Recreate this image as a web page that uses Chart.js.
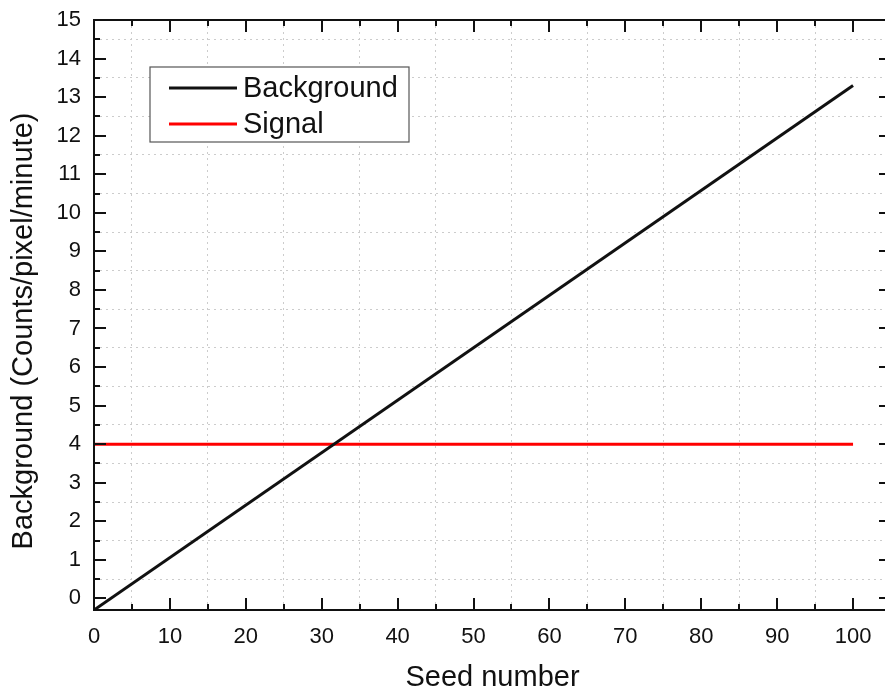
<!DOCTYPE html>
<html>
<head>
<meta charset="utf-8">
<script src="https://cdn.jsdelivr.net/npm/chart.js@4.4.1/dist/chart.umd.min.js"></script>
<style>
  html, body { margin: 0; padding: 0; background: #fff; }
  #wrap { width: 885px; height: 696px; overflow: hidden; position: relative; }
  #chart { display: block; }
</style>
</head>
<body>
<div id="wrap"><canvas id="chart" width="900" height="696"></canvas></div>
<script>
// ------------------ DATA ------------------
const seedNumbers = [0, 100];
const backgroundRate = [-0.3, 13.3];
const signalRate = [4, 4];

const xMajorTicks = [0, 10, 20, 30, 40, 50, 60, 70, 80, 90, 100];
const xMinorTicks = [5, 15, 25, 35, 45, 55, 65, 75, 85, 95, 105];
const yMajorTicks = [0, 1, 2, 3, 4, 5, 6, 7, 8, 9, 10, 11, 12, 13, 14, 15];
const yMinorTicks = [0.5, 1.5, 2.5, 3.5, 4.5, 5.5, 6.5, 7.5, 8.5, 9.5, 10.5, 11.5, 12.5, 13.5, 14.5];

const xTitle = "Seed number";
const yTitle = "Background (Counts/pixel/minute)";

const FONT = "'Liberation Sans', Arial, sans-serif";

// ------------------ HELPERS ------------------
const allTicks = (major, minor) =>
    major.concat(minor).sort((a, b) => a - b).map(v => ({ value: v }));

const isMajor = (list, v) => list.some(m => Math.abs(m - v) < 1e-9);

// keep the plot box fixed: no extra room for overhanging tick labels
const clearPadding = s => {
    s.paddingTop = 0; s.paddingBottom = 0;
    s.paddingLeft = 0; s.paddingRight = 0;
};

// Frame, inward ticks, legend and the rotated y title
const framePlugin = {
    id: "originFrame",
    afterDraw(chart) {
        const { ctx, chartArea: a, scales } = chart;
        const xs = scales.x, ys = scales.y;
        ctx.save();
        ctx.strokeStyle = "#111";
        ctx.lineWidth = 2;
        ctx.strokeRect(a.left, a.top, a.right - a.left, a.bottom - a.top);

        ctx.beginPath();
        xMajorTicks.concat(xMinorTicks).forEach(v => {
            const px = Math.round(xs.getPixelForValue(v));
            const len = isMajor(xMajorTicks, v) ? 12 : 6;
            ctx.moveTo(px, a.bottom); ctx.lineTo(px, a.bottom - len);
            ctx.moveTo(px, a.top); ctx.lineTo(px, a.top + len);
        });
        yMajorTicks.concat(yMinorTicks).forEach(v => {
            const py = Math.round(ys.getPixelForValue(v));
            const len = isMajor(yMajorTicks, v) ? 12 : 6;
            ctx.moveTo(a.left, py); ctx.lineTo(a.left + len, py);
            ctx.moveTo(a.right, py); ctx.lineTo(a.right - len, py);
        });
        ctx.stroke();

        // legend box
        const box = { x: 150, y: 67, w: 259, h: 75 };
        ctx.fillStyle = "#fff";
        ctx.fillRect(box.x, box.y, box.w, box.h);
        ctx.strokeStyle = "#555";
        ctx.lineWidth = 1.2;
        ctx.strokeRect(box.x, box.y, box.w, box.h);
        const rows = [88, 124];
        chart.data.datasets.forEach((ds, i) => {
            const y = rows[i];
            ctx.strokeStyle = ds.borderColor;
            ctx.lineWidth = 3;
            ctx.beginPath();
            ctx.moveTo(169, y); ctx.lineTo(237, y);
            ctx.stroke();
            ctx.fillStyle = "#111";
            ctx.font = "29px " + FONT;
            ctx.textAlign = "left";
            ctx.textBaseline = "middle";
            ctx.fillText(ds.label, 243, y + 1);
        });

        // y axis title
        ctx.translate(24, 331);
        ctx.rotate(-Math.PI / 2);
        ctx.fillStyle = "#111";
        ctx.font = "29px " + FONT;
        ctx.textAlign = "center";
        ctx.textBaseline = "middle";
        ctx.fillText(yTitle, 0, 0);
        ctx.restore();
    }
};

// ------------------ CHART ------------------
const ctx = document.getElementById("chart").getContext("2d");

new Chart(ctx, {
    type: "line",
    data: {
        labels: seedNumbers,
        datasets: [
            {
                label: "Background",
                data: seedNumbers.map((x, i) => ({ x, y: backgroundRate[i] })),
                borderColor: "#111111",
                borderWidth: 3,
                pointRadius: 0,
                tension: 0
            },
            {
                label: "Signal",
                data: seedNumbers.map((x, i) => ({ x, y: signalRate[i] })),
                borderColor: "#ff0000",
                borderWidth: 3,
                pointRadius: 0,
                tension: 0
            }
        ]
    },
    options: {
        responsive: false,
        devicePixelRatio: 1,
        animation: false,
        layout: { padding: { left: 0, top: 20, right: 9, bottom: 0 } },
        plugins: {
            legend: { display: false },
            tooltip: { enabled: false }
        },
        scales: {
            x: {
                type: "linear",
                min: 0,
                max: 105,
                afterBuildTicks: s => { s.ticks = allTicks(xMajorTicks, xMinorTicks); },
                afterFit: s => { s.height = 86; clearPadding(s); },
                border: { display: false, dash: [2, 4] },
                grid: {
                    drawTicks: false,
                    lineWidth: 1,
                    color: c => (c.tick && isMajor(xMajorTicks, c.tick.value)) ? "rgba(0,0,0,0)" : "#cccccc"
                },
                ticks: {
                    autoSkip: false,
                    maxRotation: 0,
                    padding: 14,
                    color: "#111",
                    font: { family: FONT, size: 22 },
                    callback: v => isMajor(xMajorTicks, v) ? String(v) : ""
                },
                title: {
                    display: true,
                    text: xTitle,
                    color: "#111",
                    font: { family: FONT, size: 29 },
                    padding: { top: 0, bottom: 1 }
                }
            },
            y: {
                type: "linear",
                min: -0.3,
                max: 15,
                afterBuildTicks: s => { s.ticks = allTicks(yMajorTicks, yMinorTicks); },
                afterFit: s => { s.width = 94; clearPadding(s); },
                border: { display: false, dash: [2, 4] },
                grid: {
                    drawTicks: false,
                    lineWidth: 1,
                    color: c => (c.tick && isMajor(yMajorTicks, c.tick.value)) ? "rgba(0,0,0,0)" : "#cccccc"
                },
                ticks: {
                    autoSkip: false,
                    padding: 13,
                    color: "#111",
                    font: { family: FONT, size: 22 },
                    callback: v => isMajor(yMajorTicks, v) ? String(v) : ""
                }
            }
        }
    },
    plugins: [framePlugin]
});
</script>
</body>
</html>
